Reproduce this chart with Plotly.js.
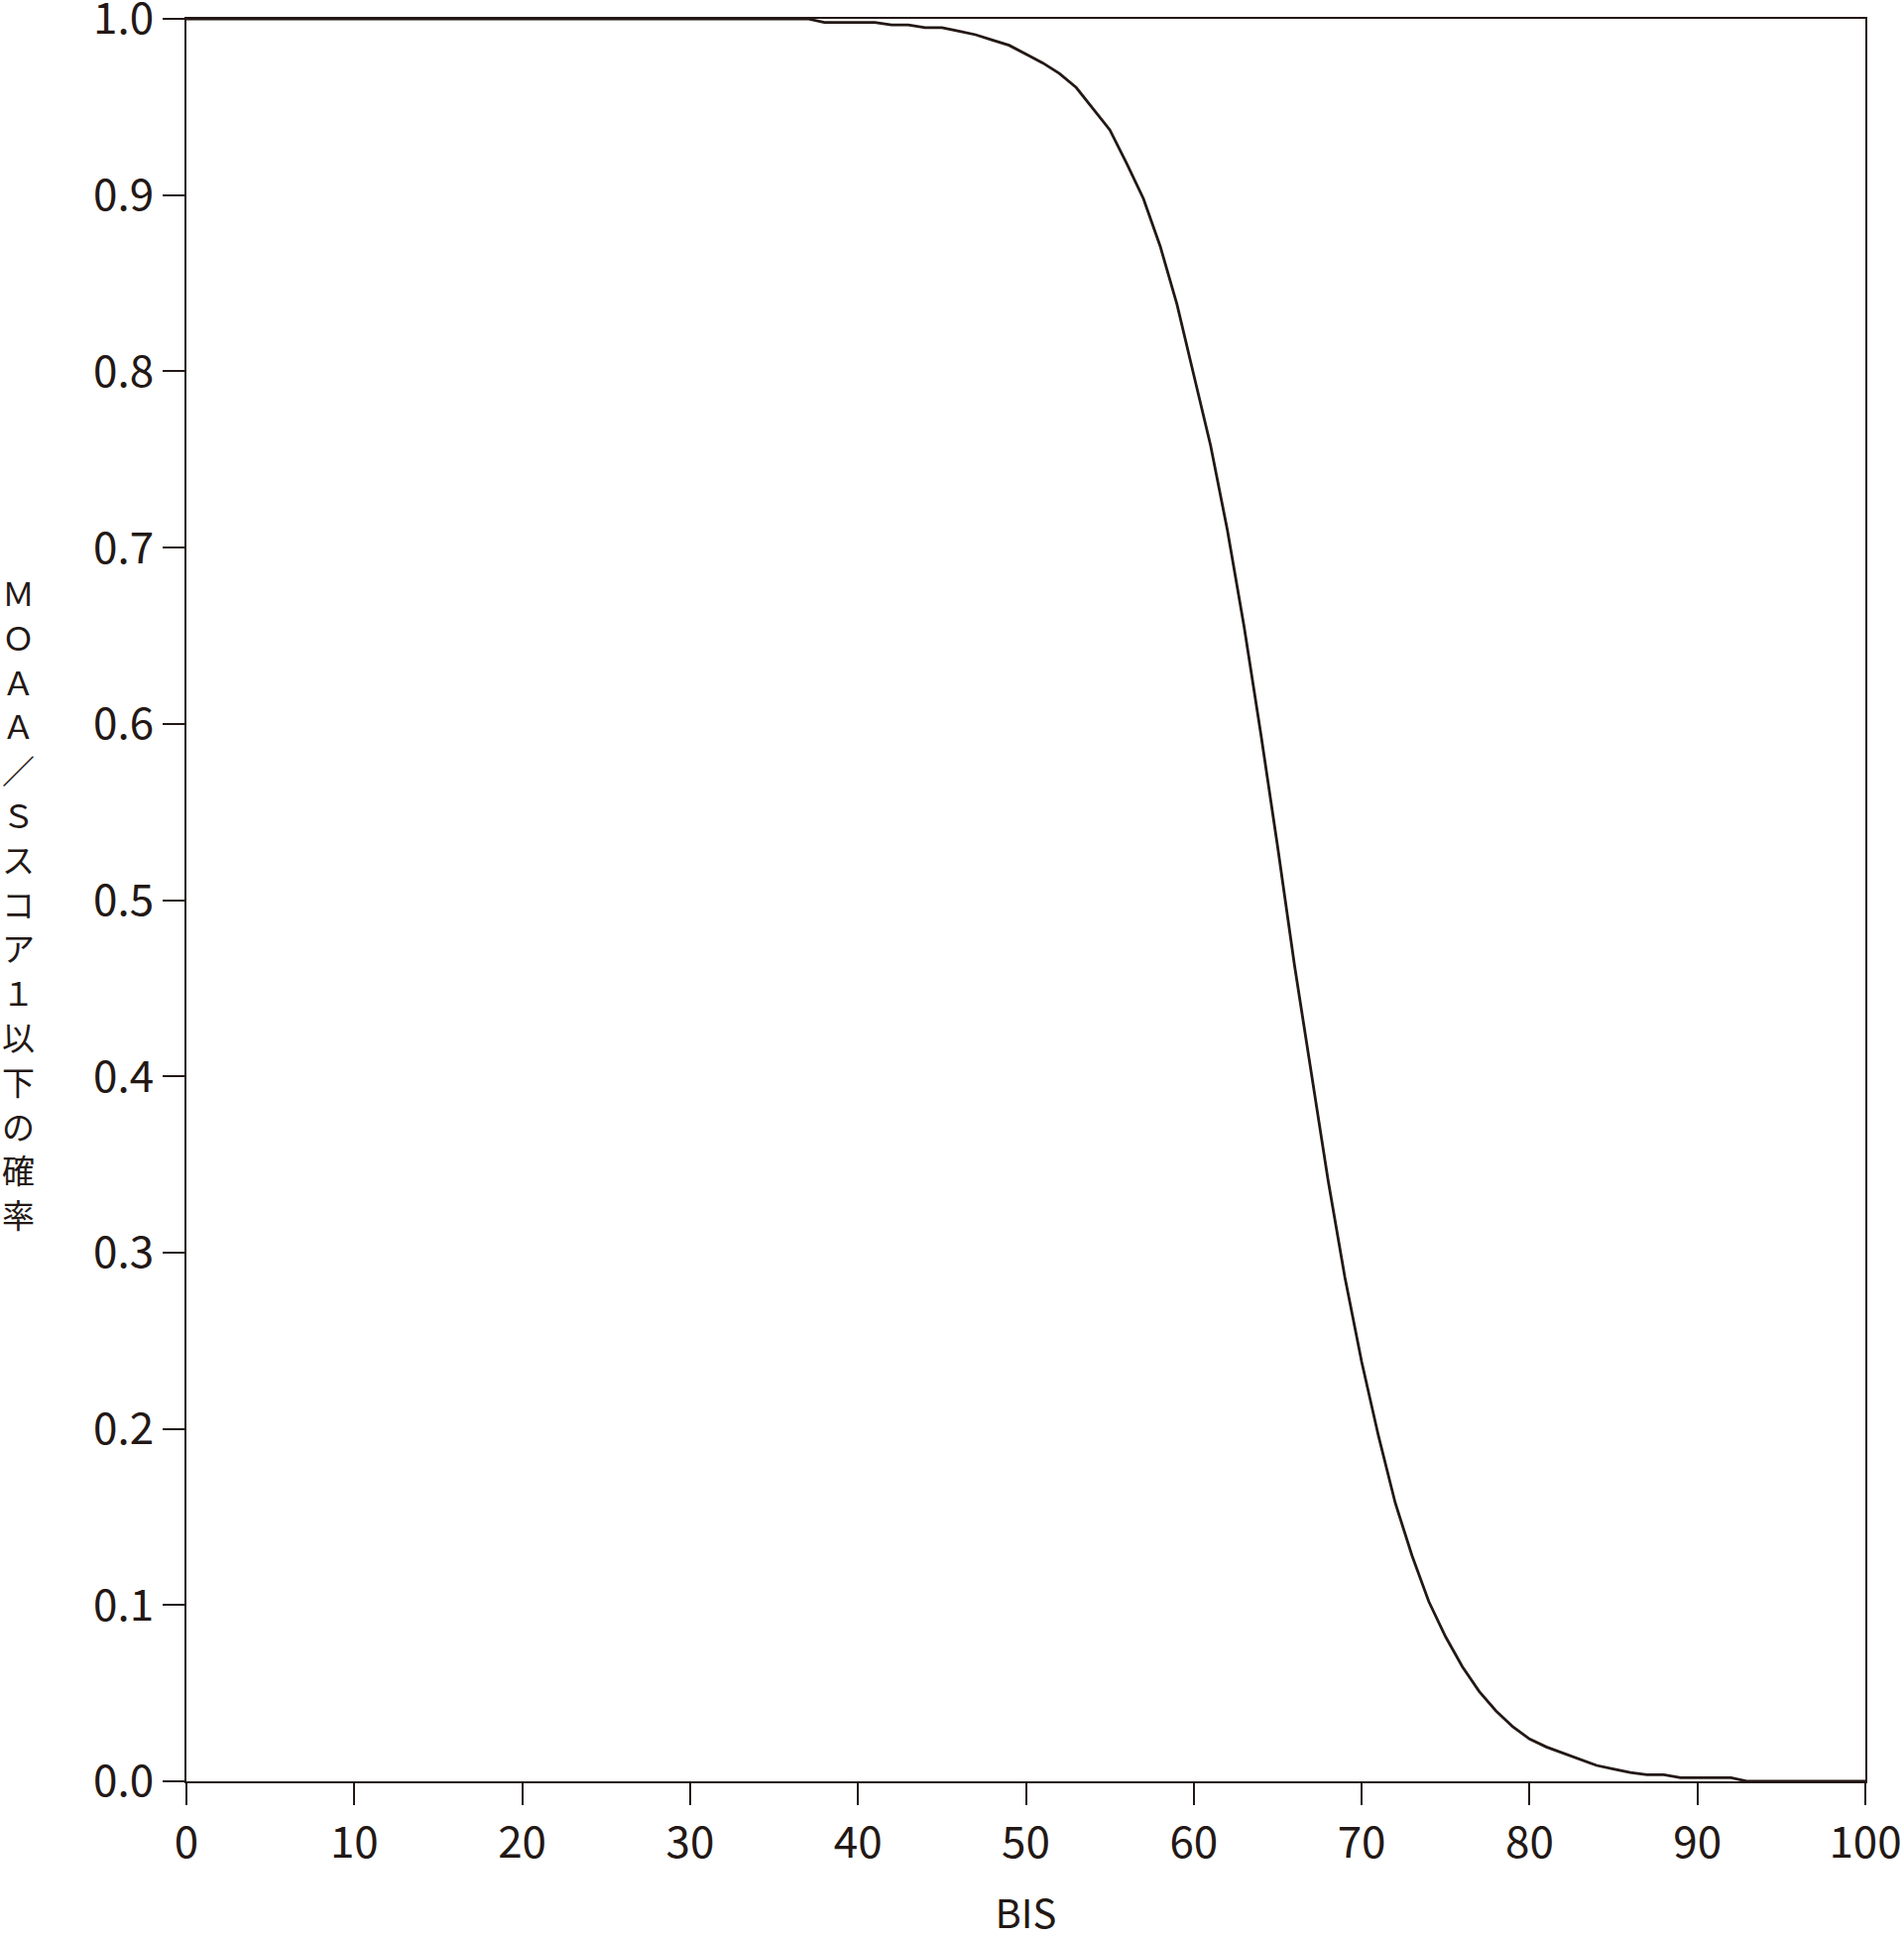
<!DOCTYPE html>
<html>
<head>
<meta charset="utf-8">
<script src="https://cdn.plot.ly/plotly-3.0.1.min.js"></script>
<style>
  html, body { margin: 0; padding: 0; background: #ffffff; }
  #chart { width: 1920px; height: 1956px; }
</style>
</head>
<body>
<div id="chart"></div>
<script>
// BIS values (x axis)
const bis = [
  0, 1, 2, 3, 4, 5, 6, 7, 8, 9,
  10, 11, 12, 13, 14, 15, 16, 17, 18, 19,
  20, 21, 22, 23, 24, 25, 26, 27, 28, 29,
  30, 31, 32, 33, 34, 35, 36, 37, 38, 39,
  40, 41, 42, 43, 44, 45, 46, 47, 48, 49,
  50, 51, 52, 53, 54, 55, 56, 57, 58, 59,
  60, 61, 62, 63, 64, 65, 66, 67, 68, 69,
  70, 71, 72, 73, 74, 75, 76, 77, 78, 79,
  80, 81, 82, 83, 84, 85, 86, 87, 88, 89,
  90, 91, 92, 93, 94, 95, 96, 97, 98, 99,
  100
];

// Probability of MOAA/S score <= 1
const probability = [
  1.0, 1.0, 1.0, 1.0, 1.0, 1.0, 1.0, 1.0, 1.0, 1.0,
  1.0, 1.0, 1.0, 1.0, 1.0, 1.0, 1.0, 1.0, 1.0, 1.0,
  1.0, 1.0, 1.0, 1.0, 1.0, 1.0, 1.0, 1.0, 1.0, 1.0,
  1.0, 1.0, 1.0, 1.0, 1.0, 1.0, 1.0, 1.0, 0.998, 0.998,
  0.998, 0.998, 0.9965, 0.9965, 0.995, 0.995, 0.993, 0.991, 0.988, 0.985,
  0.980, 0.975, 0.969, 0.961, 0.949, 0.937, 0.918, 0.898, 0.871, 0.838,
  0.798, 0.758, 0.710, 0.655, 0.594, 0.530, 0.463, 0.401, 0.341, 0.286,
  0.238, 0.196, 0.158, 0.128, 0.102, 0.082, 0.065, 0.051, 0.040, 0.031,
  0.024, 0.0195, 0.016, 0.0125, 0.009, 0.007, 0.005, 0.0037, 0.0037, 0.002,
  0.002, 0.002, 0.002, 0.0, 0.0, 0.0, 0.0, 0.0, 0.0, 0.0,
  0.0
];

const xTickVals = [0, 10, 20, 30, 40, 50, 60, 70, 80, 90, 100];
const yTickVals = [0, 0.1, 0.2, 0.3, 0.4, 0.5, 0.6, 0.7, 0.8, 0.9, 1.0];
const xTitle = "BIS";
const yTitleChars = ["Ｍ", "Ｏ", "Ａ", "Ａ", "／", "Ｓ", "ス", "コ", "ア", "１", "以", "下", "の", "確", "率"];

const ink = "#231815";
const fontFamily = "'Noto Sans CJK JP', 'Noto Sans', sans-serif";

const trace = {
  x: bis,
  y: probability,
  type: "scatter",
  mode: "lines",
  line: { color: ink, width: 2.8, shape: "linear" },
  hoverinfo: "x+y",
  showlegend: false
};

// vertical (upright, stacked) y-axis title: one annotation per character
const titleFontSize = 33;
const titlePitch = 44.8;         // px between character centres
const titleCentreShift = -3;     // px, relative to plot centre
const titleAnnotations = yTitleChars.map((ch, i) => ({
  text: ch,
  xref: "paper",
  yref: "paper",
  x: 0,
  y: 0.5,
  xanchor: "center",
  yanchor: "middle",
  xshift: -170,
  yshift: titleCentreShift + ((yTitleChars.length - 1) / 2 - i) * titlePitch,
  showarrow: false,
  borderpad: 0,
  font: { family: fontFamily, size: titleFontSize, color: ink }
}));

const layout = {
  width: 1920,
  height: 1956,
  paper_bgcolor: "#ffffff",
  plot_bgcolor: "#ffffff",
  margin: { l: 188, r: 39, t: 19, b: 160 },
  font: { family: fontFamily, color: ink, size: 44 },
  xaxis: {
    range: [0, 100],
    tickvals: xTickVals,
    ticktext: xTickVals.map(String),
    ticks: "outside",
    ticklen: 22,
    tickwidth: 2,
    tickcolor: ink,
    showline: true,
    linecolor: ink,
    linewidth: 2,
    mirror: true,
    showgrid: false,
    zeroline: false,
    ticklabeloverflow: "allow",
    tickfont: { family: fontFamily, size: 44, color: ink },
    title: { text: xTitle, font: { family: fontFamily, size: 40, color: ink }, standoff: 48 },
    automargin: false
  },
  yaxis: {
    range: [0, 1],
    tickvals: yTickVals,
    tickformat: ".1f",
    ticks: "outside",
    ticklen: 22,
    tickwidth: 2,
    tickcolor: ink,
    showline: true,
    linecolor: ink,
    linewidth: 2,
    mirror: true,
    showgrid: false,
    zeroline: false,
    ticklabeloverflow: "allow",
    tickfont: { family: fontFamily, size: 44, color: ink },
    automargin: false
  },
  annotations: titleAnnotations
};

Plotly.newPlot("chart", [trace], layout, { staticPlot: true, displayModeBar: false });
</script>
</body>
</html>
